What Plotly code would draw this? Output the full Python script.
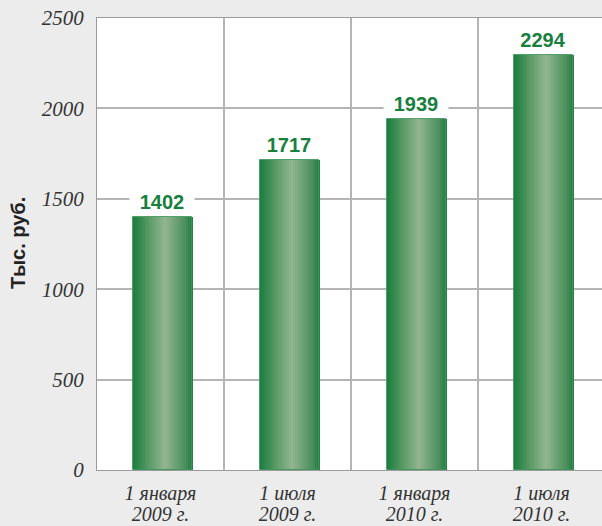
import plotly.graph_objects as go

line1 = ["1 января", "1 июля", "1 января", "1 июля"]
line2 = ["2009 г.", "2009 г.", "2010 г.", "2010 г."]
values = [1402, 1717, 1939, 2294]
y_ticks = [0, 500, 1000, 1500, 2000, 2500]

x_idx = list(range(len(line1)))
BAR_W = 0.47
SHIFT = 0.015
N = 30

stops = [(0.0, (0x1f, 0x7c, 0x3e)), (0.12, (0x36, 0x8a, 0x4f)), (0.55, (0x92, 0xb5, 0x8f)),
         (0.88, (0x4c, 0x90, 0x5e)), (1.0, (0x24, 0x7f, 0x42))]

def grad(t):
    for (a, ca), (b, cb) in zip(stops[:-1], stops[1:]):
        if a <= t <= b:
            f = (t - a) / (b - a)
            c = [round(ca[i] + (cb[i] - ca[i]) * f) for i in range(3)]
            return "rgb(%d,%d,%d)" % tuple(c)
    return "rgb(%d,%d,%d)" % stops[-1][1]

fig = go.Figure()
step = BAR_W / N
for i in range(N):
    fig.add_trace(go.Bar(
        x=x_idx, y=values, width=step * 1.3, offset=-BAR_W / 2 + SHIFT + i * step,
        marker=dict(color=grad((i + 0.5) / N), line=dict(width=0)),
        showlegend=False, hoverinfo="skip"))
# outline
fig.add_trace(go.Bar(
    x=x_idx, y=values, width=BAR_W, offset=-BAR_W / 2 + SHIFT,
    marker=dict(color="rgba(0,0,0,0)", line=dict(width=1, color="rgba(60,150,90,0.9)")),
    showlegend=False, hoverinfo="skip"))
# carrier for second line of category labels
fig.add_trace(go.Scatter(x=x_idx, y=values, xaxis="x2", mode="none",
                         showlegend=False, hoverinfo="skip"))

for xi, v in zip(x_idx, values):
    fig.add_annotation(x=xi + SHIFT, y=v, text="<b>%d</b>" % v, showarrow=False,
                       yanchor="middle", yshift=15, bgcolor="white", width=62,
                       font=dict(family="Liberation Sans", size=20, color="#17803f"))

fig.add_annotation(xref="paper", yref="paper", x=(18 - 97) / 505, y=(470 - 243) / 452,
                   text="<b>Тыс. руб.</b>", textangle=-90, showarrow=False,
                   xanchor="center", yanchor="middle",
                   font=dict(family="Liberation Sans", size=20, color="#222"))

xrange = [-0.5, -0.5 + 505 / 127]
tickfont_x = dict(family="Liberation Serif", size=20, color="#333", style="italic")
fig.update_layout(
    width=602, height=526,
    margin=dict(l=97, r=0, t=18, b=56),
    paper_bgcolor="#ececec", plot_bgcolor="white",
    barmode="overlay", bargap=0,
    xaxis=dict(range=xrange, tickmode="array", tickvals=x_idx, automargin=False,
               ticktext=line1, showgrid=False, zeroline=False,
               showline=True, linecolor="#9a9a9a", linewidth=1, mirror=True,
               ticks="", ticklabelstandoff=5, tickfont=tickfont_x,
               minor=dict(tickmode="linear", tick0=0.5, dtick=1, showgrid=True,
                          gridcolor="#b5b5b5", gridwidth=1.5, ticks="")),
    xaxis2=dict(range=xrange, overlaying="x", side="bottom", tickmode="array",
                tickvals=x_idx, ticktext=line2, automargin=False, showgrid=False,
                zeroline=False, showline=False, ticks="", ticklabelstandoff=30,
                tickfont=tickfont_x),
    yaxis=dict(range=[0, 2500], tickmode="array", tickvals=y_ticks, automargin=False,
               showgrid=True, gridcolor="#b5b5b5", gridwidth=1.5, zeroline=False,
               showline=True, linecolor="#9a9a9a", linewidth=1, mirror=True,
               ticks="", ticklabelstandoff=8,
               tickfont=dict(family="Liberation Serif", size=21, color="#333", style="italic")),
)

fig.write_html("out.html", config={"displayModeBar": False},
               post_script="document.body.style.margin='0';document.body.style.background='#ececec';")
